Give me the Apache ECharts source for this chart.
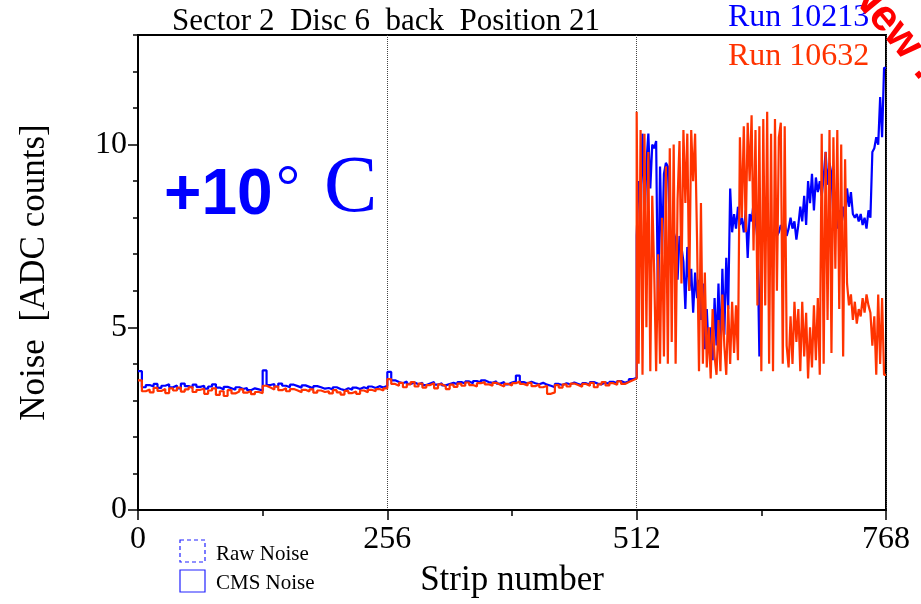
<!DOCTYPE html>
<html><head><meta charset="utf-8">
<script src="https://cdn.jsdelivr.net/npm/echarts@6/dist/echarts.min.js"></script>
<style>html,body{margin:0;padding:0;background:#fff}#c{width:921px;height:604px}</style>
</head><body><div id="c"></div>
<script>
// x tick labels / y tick labels
const xTickValues = [0, 256, 512, 768];
const yTickValues = [0, 5, 10];

// Run 10213 (blue), strips 0..508 every 4 strips
const blueLeft = [
 3.80,3.36,3.42,3.38,3.45,3.34,3.40,3.44,3.36,3.41,3.33,3.46,3.39,3.35,3.43,3.37,
 3.40,3.32,3.38,3.44,3.35,3.30,3.37,3.33,3.29,3.36,3.31,3.34,3.28,3.33,3.30,3.27,
 3.82,3.42,3.45,3.38,3.46,3.40,3.36,3.43,3.39,3.35,3.41,3.37,3.33,3.39,3.36,3.32,
 3.34,3.30,3.36,3.31,3.28,3.33,3.29,3.35,3.31,3.36,3.32,3.38,3.34,3.39,3.35,3.40,
 3.78,3.55,3.50,3.47,3.52,3.45,3.49,3.44,3.48,3.42,3.46,3.50,3.43,3.47,3.41,3.45,
 3.48,3.44,3.50,3.46,3.52,3.47,3.53,3.49,3.55,3.50,3.48,3.52,3.46,3.50,3.44,3.49,
 3.52,3.68,3.50,3.46,3.51,3.47,3.44,3.48,3.43,3.40,3.36,3.45,3.42,3.47,3.44,3.49,
 3.45,3.41,3.47,3.43,3.50,3.46,3.44,3.49,3.45,3.51,3.47,3.53,3.48,3.52,3.58,3.62
];
// Run 10213 (blue), strips 512..766 every 2 strips
const blueRight = [
 7.5,9.0,8.6,10.3,7.8,9.5,10.3,8.8,10.0,9.9,10.1,5.2,9.4,7.0,9.2,9.5,9.4,7.8,7.0,7.6,
 7.4,6.3,7.5,7.2,6.8,5.5,7.2,6.0,6.6,5.4,6.5,5.8,6.3,
 5.2,6.2,4.4,5.5,4.3,5.0,4.1,5.8,4.5,6.2,4.3,6.6,4.8,6.9,5.5,8.8,7.6,8.1,7.7,8.3,
 7.8,8.0,7.6,8.2,6.9,8.1,7.9,8.4,8.0,7.4,4.2,7.5,
 7.6,7.8,7.5,7.7,7.6,7.4,7.7,7.5,7.6,7.8,7.6,7.9,7.5,7.7,8.0,7.7,7.9,7.4,7.8,8.3,
 7.9,8.6,7.8,9.0,8.4,9.2,8.2,9.1,8.7,9.0,8.6,9.1,9.8,8.9,9.5,
 9.2,8.0,8.4,7.7,8.2,7.8,8.3,7.9,8.8,8.3,8.7,8.1,8.0,8.1,7.9,8.1,7.8,8.0,7.7,8.2,
 8.0,9.8,9.9,10.2,10.0,11.3,10.2,12.1
];
// Run 10632 (red), strips 0..508 every 4 strips
const redLeft = [
 3.55,3.25,3.30,3.22,3.34,3.26,3.31,3.20,3.33,3.27,3.35,3.24,3.30,3.36,3.23,3.29,
 3.32,3.18,3.27,3.33,3.15,3.25,3.12,3.28,3.19,3.24,3.30,3.21,3.26,3.17,3.23,3.20,
 3.40,3.35,3.30,3.38,3.28,3.33,3.25,3.31,3.27,3.22,3.29,3.24,3.30,3.21,3.27,3.23,
 3.25,3.19,3.28,3.22,3.16,3.26,3.20,3.24,3.18,3.27,3.22,3.29,3.25,3.31,3.27,3.33,
 3.58,3.45,3.40,3.48,3.36,3.44,3.50,3.38,3.46,3.35,3.42,3.47,3.33,3.44,3.39,3.31,
 3.43,3.37,3.46,3.40,3.49,3.42,3.38,3.47,3.50,3.44,3.40,3.48,3.43,3.38,3.45,3.41,
 3.47,3.52,3.45,3.41,3.48,3.39,3.44,3.36,3.40,3.18,3.22,3.42,3.35,3.44,3.38,3.46,
 3.42,3.37,3.45,3.40,3.48,3.36,3.44,3.50,3.41,3.47,3.43,3.52,3.45,3.50,3.55,3.60
];
// Run 10632 (red), strips 512..766 every 2 strips
const redRight = [
 10.9,4.0,10.4,3.7,10.3,5.0,9.8,3.8,8.6,6.5,3.8,7.0,4.0,8.0,4.2,9.4,4.0,9.9,4.6,10.0,
 4.0,8.5,10.1,6.2,10.4,8.4,10.3,6.0,10.4,9.0,10.3,7.4,3.8,
 8.4,4.0,6.5,3.9,5.0,3.6,5.5,4.2,3.7,5.2,3.8,5.9,4.5,3.7,5.6,4.0,5.7,4.3,5.6,4.1,
 10.2,8.0,10.5,7.6,10.6,9.0,10.8,7.1,10.4,5.6,10.5,3.8,
 10.7,5.6,10.9,4.0,10.3,3.8,10.7,6.0,10.2,10.6,4.0,10.5,4.5,3.9,5.3,4.0,5.7,4.6,5.5,3.8,
 5.7,4.2,5.4,3.6,5.0,3.9,5.6,4.1,5.8,3.7,10.3,4.0,9.8,5.2,10.4,
 4.3,10.2,6.6,10.4,5.5,10.0,4.2,9.6,6.2,5.6,5.9,5.2,5.7,5.1,5.5,5.3,5.8,5.4,5.9,5.6,
 5.4,4.5,5.3,3.7,5.9,4.0,5.8,3.7
];

function build(left, right) {
  const d = [];
  left.forEach((v, i) => d.push([i * 4, v]));
  right.forEach((v, i) => d.push([512 + i * 2, v]));
  d.push([768, right[right.length - 1]]);
  return d;
}

const SERIF = 'Liberation Serif';
const chart = echarts.init(document.getElementById('c'), null, {renderer: 'canvas'});
chart.setOption({
  animation: false,
  backgroundColor: '#fff',
  grid: {left: 138, right: 35, top: 35, bottom: 94, show: true, borderColor: '#000', borderWidth: 2, backgroundColor: 'transparent'},
  xAxis: {
    type: 'value', min: 0, max: 768, interval: 256,
    axisLine: {show: true, lineStyle: {color: '#000', width: 2}},
    axisTick: {show: true, length: 10, lineStyle: {color: '#000', width: 1.5}},
    minorTick: {show: true, splitNumber: 2, length: 6, lineStyle: {color: '#000', width: 1.5}},
    axisLabel: {fontFamily: SERIF, fontSize: 32, color: '#000', margin: 14,
      customValues: xTickValues},
    splitLine: {show: true, lineStyle: {color: '#444', type: 'dotted', width: 1}},
    name: 'Strip number', nameLocation: 'middle', nameGap: 53,
    nameTextStyle: {fontFamily: SERIF, fontSize: 35, color: '#000'}
  },
  yAxis: [{
    type: 'value', min: 0, max: 13, interval: 5,
    axisLine: {show: true, lineStyle: {color: '#000', width: 2}},
    axisTick: {show: true, length: 10, lineStyle: {color: '#000', width: 1.5}, customValues: yTickValues},
    axisLabel: {fontFamily: SERIF, fontSize: 32, color: '#000', margin: 11, customValues: yTickValues},
    splitLine: {show: false},
    name: 'Noise  [ADC counts]', nameLocation: 'middle', nameGap: 86, nameRotate: 90,
    nameTextStyle: {fontFamily: SERIF, fontSize: 35, color: '#000'}
  }, {
    type: 'value', min: 0, max: 13, interval: 1, position: 'left',
    axisLine: {show: false},
    axisTick: {show: true, length: 5, lineStyle: {color: '#000', width: 1.5}},
    axisLabel: {show: false},
    splitLine: {show: false}
  }],
  series: [{
    name: 'Run 10213', type: 'line', step: 'end', showSymbol: false, symbol: 'none',
    data: build(blueLeft, blueRight),
    lineStyle: {color: '#0000ff', width: 2.2}, z: 2
  }, {
    name: 'Run 10632', type: 'line', step: 'end', showSymbol: false, symbol: 'none',
    data: build(redLeft, redRight),
    lineStyle: {color: '#ff3300', width: 2.2}, z: 3
  }],
  graphic: [
    {type: 'text', left: 172, top: 6, z: 10,
      style: {text: 'Sector 2  Disc 6  back  Position 21', font: '31px "Liberation Serif"', fill: '#000'}},
    {type: 'text', left: 728, top: 2, z: 10,
      style: {text: 'Run 10213', font: '32px "Liberation Serif"', fill: '#0000ff'}},
    {type: 'text', left: 728, top: 41, z: 10,
      style: {text: 'Run 10632', font: '32px "Liberation Serif"', fill: '#ff3300'}},
    {type: 'text', left: 164, top: 164, z: 10,
      style: {text: '+10', font: 'bold 64px "Liberation Sans"', fill: '#0000ff'}},
    {type: 'text', left: 276, top: 160, z: 10,
      style: {text: '°', font: '60px "Liberation Serif"', fill: '#0000ff'}},
    {type: 'text', left: 324, top: 150, z: 10,
      style: {text: 'C', font: '80px "Liberation Serif"', fill: '#0000ff'}},
    {type: 'rect', shape: {x: 180, y: 540, width: 25, height: 22}, z: 10,
      style: {fill: 'none', stroke: '#2222ff', lineWidth: 1.2, lineDash: [4, 3]}},
    {type: 'text', left: 216, top: 544, z: 10,
      style: {text: 'Raw Noise', font: '21px "Liberation Serif"', fill: '#000'}},
    {type: 'rect', shape: {x: 180, y: 570, width: 25, height: 22}, z: 10,
      style: {fill: 'none', stroke: '#2222ff', lineWidth: 1.2}},
    {type: 'text', left: 216, top: 573, z: 10,
      style: {text: 'CMS Noise', font: '21px "Liberation Serif"', fill: '#000'}},
    {type: 'text', x: 856, y: -16, rotation: -0.88, z: 20,
      style: {text: 'New !', font: 'bold 44px "Liberation Sans"', fill: '#ff0000', align: 'left', verticalAlign: 'middle'}}
  ]
});
</script></body></html>
